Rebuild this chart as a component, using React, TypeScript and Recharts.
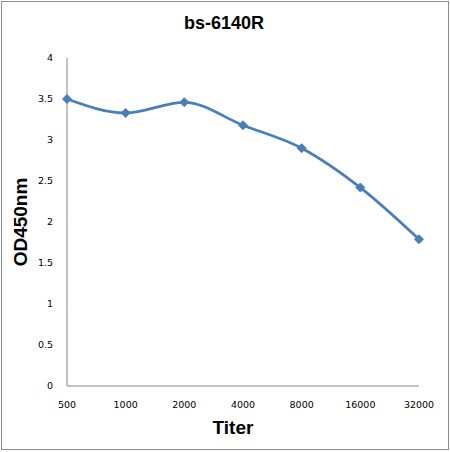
import React from "react";
import { LineChart, Line, XAxis, YAxis, Label } from "recharts";

const titers = ["500", "1000", "2000", "4000", "8000", "16000", "32000"];
const od450 = [3.5, 3.33, 3.46, 3.18, 2.9, 2.42, 1.79];
const yTicks = [0, 0.5, 1, 1.5, 2, 2.5, 3, 3.5, 4];

const data = titers.map((t, i) => ({ titer: t, od: od450[i] }));

const COLOR = "#4A7EBB";
const FONT = "'Liberation Sans', Arial, sans-serif";
const TICK_FONT = "'DejaVu Sans', Verdana, sans-serif";

const Diamond = (props: any) => {
  const { cx, cy } = props;
  if (cx == null || cy == null) return null;
  const r = 4.5;
  return (
    <polygon
      points={`${cx},${cy - r} ${cx + r},${cy} ${cx},${cy + r} ${cx - r},${cy}`}
      fill={COLOR}
      stroke={COLOR}
      strokeWidth={1}
    />
  );
};

export default function App() {
  return (
    <div style={{ position: "absolute", left: 0, top: 0, width: 450, height: 452, background: "#fff" }}>
      <div
        style={{
          position: "absolute",
          left: 1,
          top: 1,
          width: 448,
          height: 449,
          border: "1px solid #8c8c8c",
          boxSizing: "border-box",
        }}
      />
      <div
        style={{
          position: "absolute",
          left: 0,
          top: 12,
          width: 448,
          textAlign: "center",
          fontFamily: FONT,
          fontWeight: "bold",
          fontSize: 18,
          color: "#000",
          lineHeight: "22px",
        }}
      >
        bs-6140R
      </div>
      <LineChart
        width={450}
        height={452}
        data={data}
        margin={{ top: 58, right: 31, left: 0, bottom: 0 }}
        style={{ position: "absolute", left: 0, top: 0 }}
      >
        <XAxis
          dataKey="titer"
          height={66}
          tickLine={false}
          tickSize={0}
          tickMargin={15}
          axisLine={{ stroke: "#868686", strokeWidth: 1 }}
          tick={{ fill: "#000", fontSize: 9.5, fontFamily: TICK_FONT }}
          interval={0}
        >
          <Label
            value="Titer"
            position="insideBottom"
            offset={18}
            dx={-10}
            style={{ fontFamily: FONT, fontWeight: "bold", fontSize: 19, fill: "#000" }}
          />
        </XAxis>
        <YAxis
          width={67}
          domain={[0, 4]}
          ticks={yTicks}
          tickLine={false}
          tickSize={0}
          tickMargin={14}
          axisLine={{ stroke: "#868686", strokeWidth: 1 }}
          tick={{ fill: "#000", fontSize: 9.5, fontFamily: TICK_FONT }}
          interval={0}
        >
          <Label
            value="OD450nm"
            angle={-90}
            position="insideLeft"
            offset={0}
            dx={20}
            style={{ fontFamily: FONT, fontWeight: "bold", fontSize: 19, fill: "#000", textAnchor: "middle" }}
          />
        </YAxis>
        <Line
          type="monotone"
          dataKey="od"
          stroke={COLOR}
          strokeWidth={2.75}
          dot={<Diamond />}
          activeDot={false}
          isAnimationActive={false}
        />
      </LineChart>
    </div>
  );
}
